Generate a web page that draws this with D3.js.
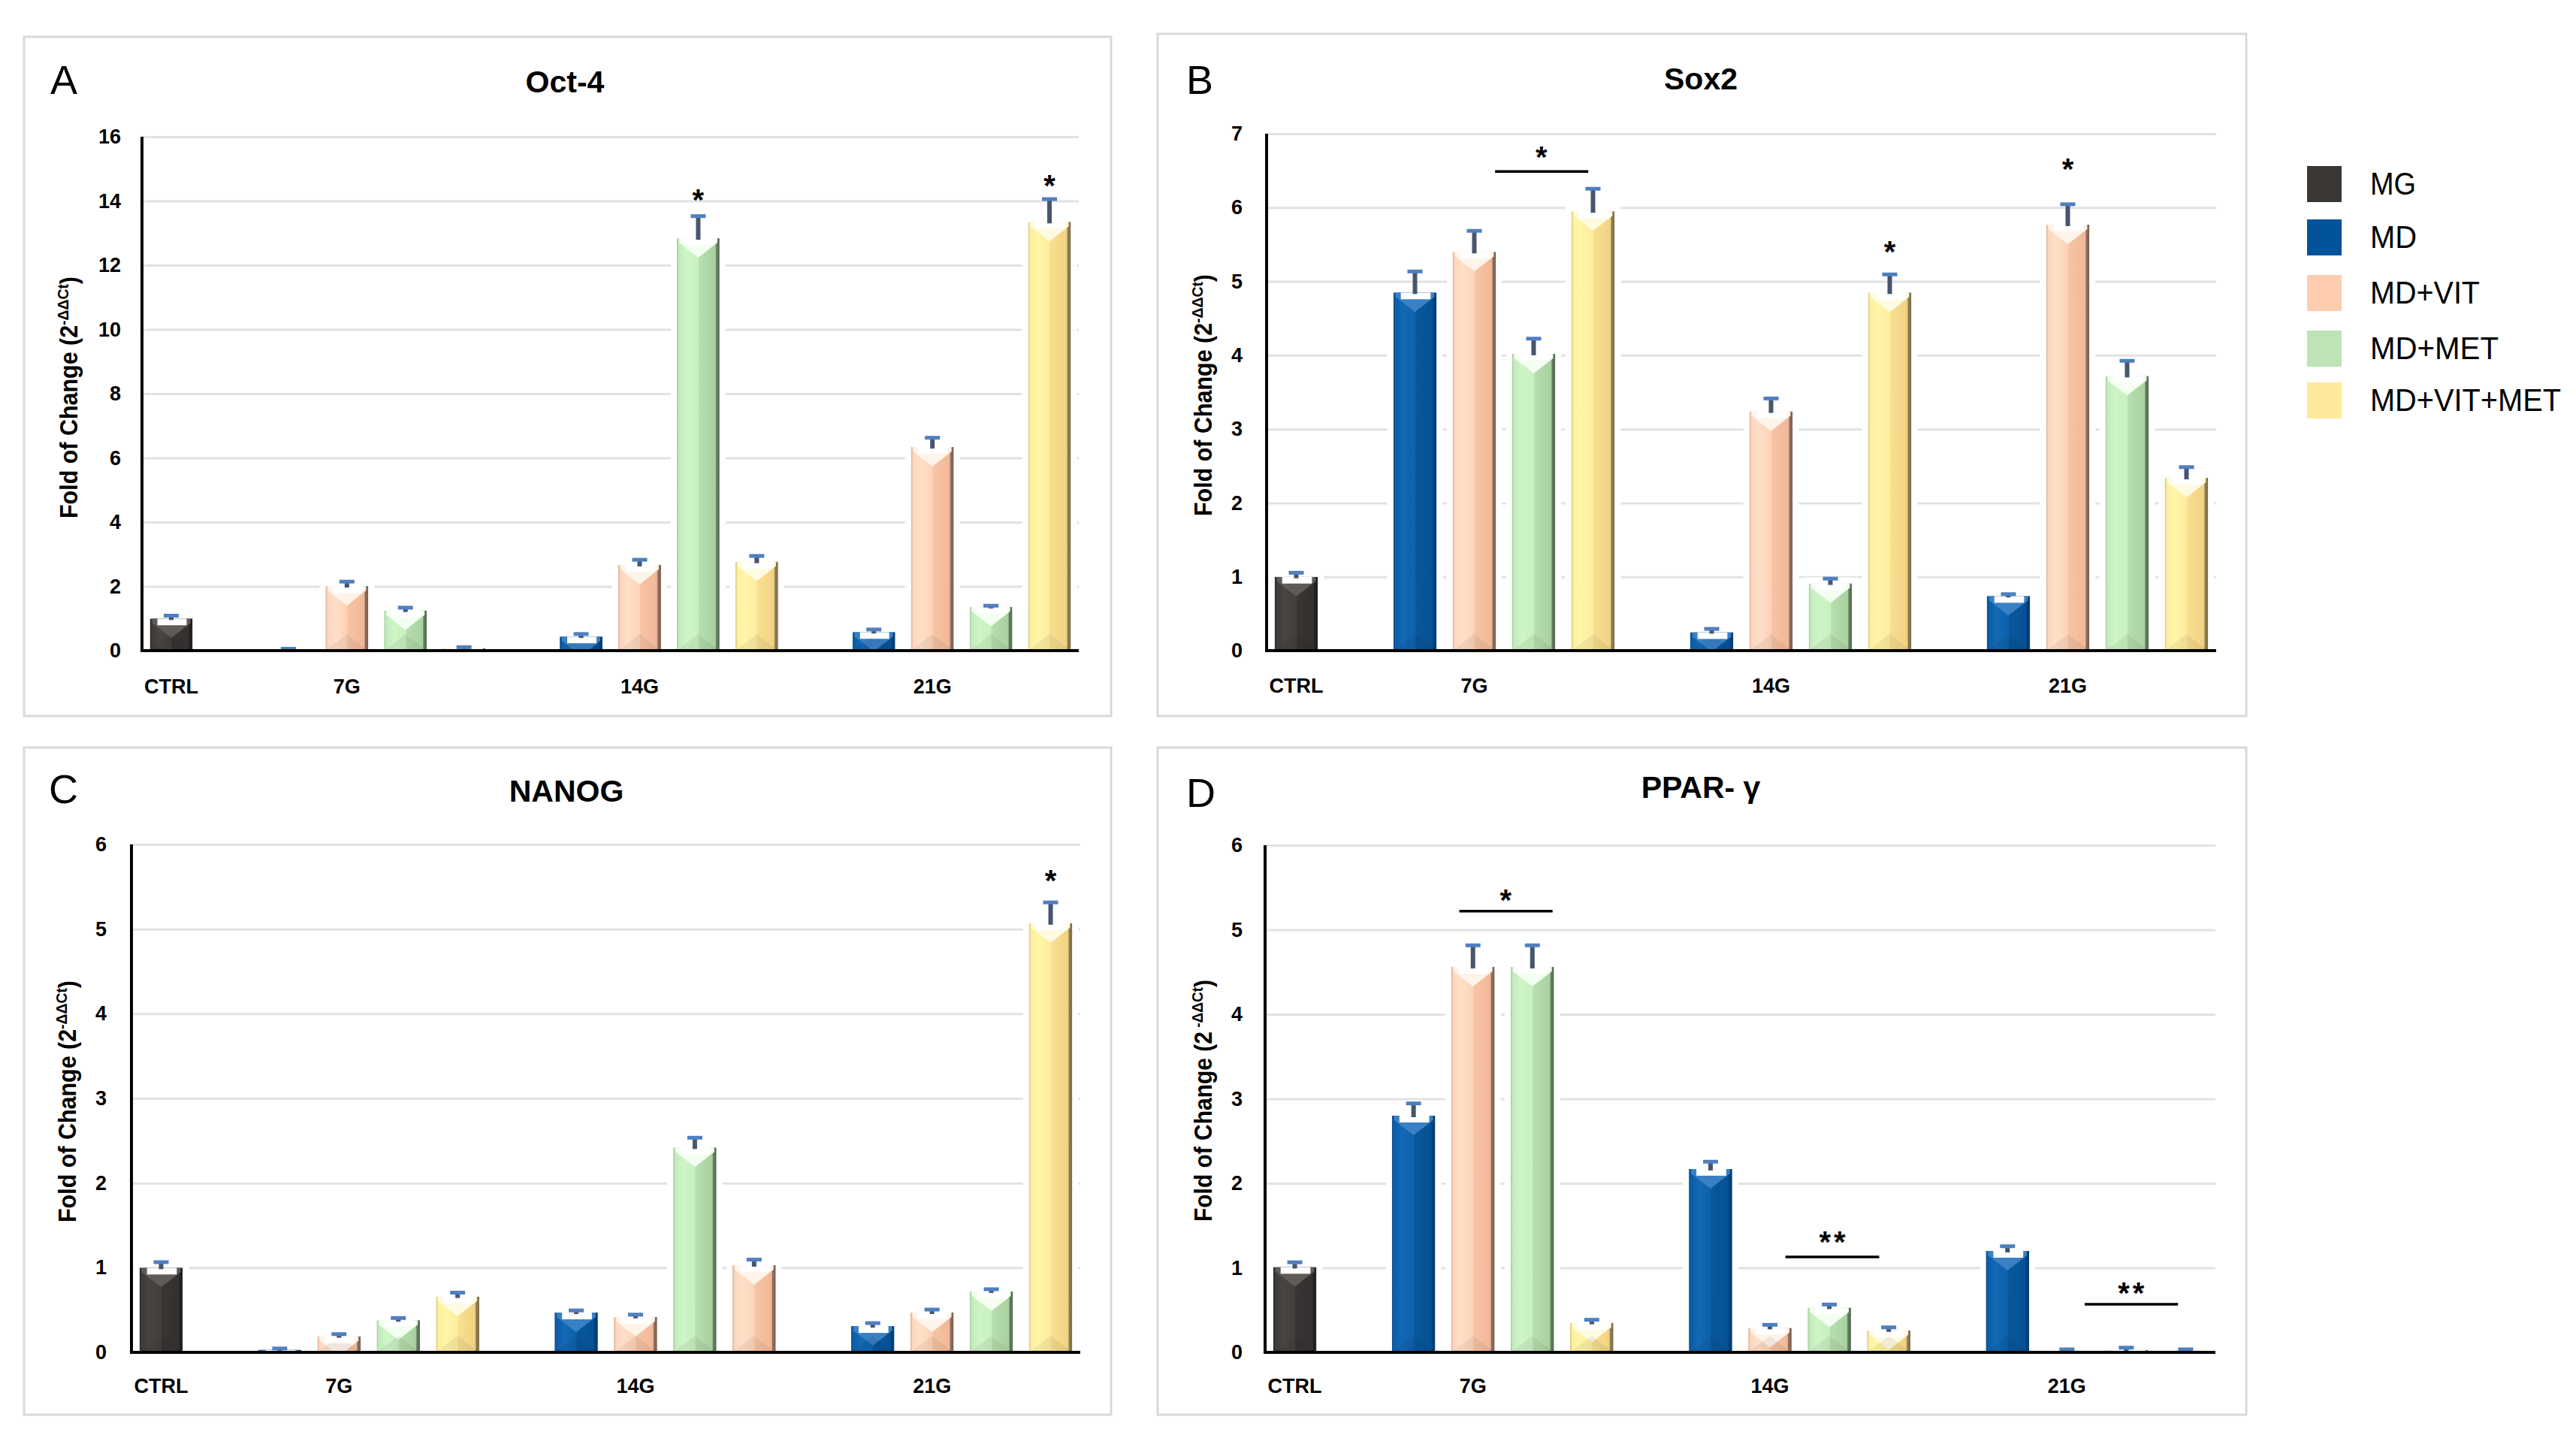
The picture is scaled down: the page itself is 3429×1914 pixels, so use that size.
<!DOCTYPE html>
<html><head><meta charset="utf-8">
<script src="https://cdn.jsdelivr.net/npm/d3@7"></script>
<style>html,body{margin:0;padding:0;background:#fff;} svg{display:block;}</style>
</head><body>
<svg id="chart" width="3429" height="1914"></svg>
<script>
// ---------------- DATA ----------------
const groups = ["CTRL", "7G", "14G", "21G"];
const series = ["MG", "MD", "MD+VIT", "MD+MET", "MD+VIT+MET"];
const seriesColors = ["#3b3735", "#02539a", "#fecdb0", "#bde3b6", "#fee89a"];
// bar order: CTRL:MG | 7G: MD, MD+VIT, MD+MET, MD+VIT+MET | 14G: same | 21G: same
const barGroup  = [0, 1, 1, 1, 1, 2, 2, 2, 2, 3, 3, 3, 3];
const barSeries = [0, 1, 2, 3, 4, 1, 2, 3, 4, 1, 2, 3, 4];
const nanogBarColor = [0, 1, 2, 3, 4, 1, 2, 3, 2, 1, 2, 3, 4]; // 14G 4th bar drawn in peach in the original

const oct4Values  = [1.00, 0.03, 2.01, 1.25, 0.08, 0.44, 2.67, 12.84, 2.77, 0.58, 6.34, 1.36, 13.35];
const oct4Errors  = [0.10, 0.04, 0.15, 0.10, 0.04, 0.09, 0.17, 0.70, 0.19, 0.09, 0.30, 0.05, 0.72];
const sox2Values  = [1.00, 4.85, 5.40, 4.02, 5.95, 0.25, 3.24, 0.91, 4.85, 0.74, 5.77, 3.72, 2.34];
const sox2Errors  = [0.06, 0.29, 0.29, 0.21, 0.31, 0.05, 0.18, 0.07, 0.25, 0.03, 0.28, 0.21, 0.15];
const nanogValues = [1.00, 0.03, 0.19, 0.38, 0.66, 0.47, 0.42, 2.42, 1.03, 0.31, 0.47, 0.72, 5.07];
const nanogErrors = [0.07, 0.02, 0.03, 0.03, 0.05, 0.03, 0.03, 0.12, 0.07, 0.04, 0.04, 0.03, 0.25];
const pparValues  = [1.01, 2.80, 4.56, 4.56, 0.35, 2.17, 0.29, 0.53, 0.26, 1.20, 0.02, 0.03, 0.02];
const pparErrors  = [0.06, 0.15, 0.26, 0.26, 0.04, 0.09, 0.04, 0.04, 0.04, 0.06, 0.02, 0.03, 0.02];

const oct4Ticks  = [0, 2, 4, 6, 8, 10, 12, 14, 16];
const sox2Ticks  = [0, 1, 2, 3, 4, 5, 6, 7];
const nanogTicks = [0, 1, 2, 3, 4, 5, 6];
const pparTicks  = [0, 1, 2, 3, 4, 5, 6];

// significance marks: slot position (bar slot units), value level, optional bracket line
const oct4Marks  = [{t: "*", s: 9, v: 14.25}, {t: "*", s: 15, v: 14.7}];
const sox2Marks  = [{t: "*", s: 4.13, v: 6.78, l: [3.35, 4.92, 6.49]}, {t: "*", s: 10, v: 5.49}, {t: "*", s: 13, v: 6.61}];
const nanogMarks = [{t: "*", s: 15, v: 5.65}];
const pparMarks  = [{t: "*", s: 3.55, v: 5.43, l: [2.77, 4.34, 5.22]},
                    {t: "**", s: 9.05, v: 1.39, l: [8.26, 9.84, 1.13]},
                    {t: "**", s: 14.08, v: 0.78, l: [13.3, 14.87, 0.57]}];

// ---------------- STYLE / LAYOUT ----------------
const FONT = "'Liberation Sans', Arial, Helvetica, sans-serif";
const gradStops = [
  [[0,"#2b2827"],[0.05,"#3e3a38"],[0.22,"#484442"],[0.5,"#433f3d"],[0.52,"#393534"],[0.9,"#34302f"],[0.93,"#232120"],[1,"#232120"]],
  [[0,"#0a4f8f"],[0.05,"#0b5ea8"],[0.22,"#1368b4"],[0.5,"#0e61ab"],[0.52,"#08579c"],[0.9,"#065195"],[0.93,"#043f75"],[1,"#043f75"]],
  [[0,"#d9ad93"],[0.05,"#fdd6bc"],[0.22,"#ffdfc8"],[0.5,"#fdd3b8"],[0.52,"#f8c4a5"],[0.9,"#f0b898"],[0.93,"#8e6d5d"],[1,"#7a5e51"]],
  [[0,"#a5c89e"],[0.05,"#c4ebbd"],[0.22,"#cdf5c6"],[0.5,"#c8f0c1"],[0.52,"#b7dfaf"],[0.9,"#a9d19f"],[0.93,"#607a5e"],[1,"#566e55"]],
  [[0,"#d6c07c"],[0.05,"#fdf0a0"],[0.22,"#fff6a8"],[0.5,"#fdec9f"],[0.52,"#f8df90"],[0.9,"#f1d283"],[0.93,"#8d7c51"],[1,"#7d6e48"]]
];
const highlight = ["#5f5b59", "#3a80c4", "#fff4ea", "#f3fff0", "#fffbe2"];

const panels = [
  {key:"A", title:"Oct-4", values:oct4Values, errors:oct4Errors, ticks:oct4Ticks, marks:oct4Marks, colors:barSeries,
   frame:[32,49,1479,953], plot:{left:189,right:1436,top:182,base:866}, tickPad:28,
   letter:[67,125], titleXY:[752,123], yLab:[103,529], xLabY:923, sup:"-ΔΔCt"},
  {key:"B", title:"Sox2", values:sox2Values, errors:sox2Errors, ticks:sox2Ticks, marks:sox2Marks, colors:barSeries,
   frame:[1541,45,2990,953], plot:{left:1686,right:2950,top:178,base:866}, tickPad:32,
   letter:[1579,125], titleXY:[2264,119], yLab:[1613,526], xLabY:922, sup:"-ΔΔCt"},
  {key:"C", title:"NANOG", values:nanogValues, errors:nanogErrors, ticks:nanogTicks, marks:nanogMarks, colors:nanogBarColor,
   frame:[32,995,1479,1883], plot:{left:175,right:1438,top:1124,base:1800}, tickPad:33,
   letter:[65,1069], titleXY:[754,1067], yLab:[101,1466], xLabY:1854, sup:"-ΔΔCt"},
  {key:"D", title:"PPAR- γ", values:pparValues, errors:pparErrors, ticks:pparTicks, marks:pparMarks, colors:barSeries,
   frame:[1541,995,2990,1883], plot:{left:1684,right:2949,top:1125,base:1800}, tickPad:30,
   letter:[1579,1074], titleXY:[2264,1062], yLab:[1613,1465], xLabY:1854, sup:" -ΔΔCt"}
];

// ---------------- DRAW ----------------
const svg = d3.select("#chart");
svg.append("rect").attr("width", 3429).attr("height", 1914).attr("fill", "#fff");
const defs = svg.append("defs");
gradStops.forEach((stops, i) => {
  const lg = defs.append("linearGradient").attr("id", "grad" + i).attr("x1", 0).attr("x2", 1).attr("y1", 0).attr("y2", 0);
  stops.forEach(s => lg.append("stop").attr("offset", s[0]).attr("stop-color", s[1]));
});

const groupLabelSlots = [0, 3, 8, 13];
const barSlot = (i) => barGroup[i] === 0 ? 0 : (barGroup[i] - 1) * 5 + 1 + barSeries[i];

function drawPanel(p) {
  const g = svg.append("g");
  const base = p.plot.base;
  g.append("rect").attr("x", p.frame[0]).attr("y", p.frame[1])
    .attr("width", p.frame[2] - p.frame[0]).attr("height", p.frame[3] - p.frame[1])
    .attr("fill", "none").attr("stroke", "#d9d9d9").attr("stroke-width", 3);

  const x = d3.scaleBand().domain(d3.range(16)).range([p.plot.left, p.plot.right])
    .paddingInner(0.27).paddingOuter(0.135);
  const step = x.step();
  const slotX = s => p.plot.left + (s + 0.5) * step;
  const y = d3.scaleLinear().domain([0, d3.max(p.ticks)]).range([base, p.plot.top]);

  // gridlines
  g.append("g").attr("transform", `translate(${p.plot.left},0)`)
    .call(d3.axisLeft(y).tickValues(p.ticks).tickSize(-(p.plot.right - p.plot.left)).tickFormat(""))
    .call(s => { s.select(".domain").remove(); s.selectAll("line").attr("stroke", "#e2e2e2").attr("stroke-width", 3); });

  // y tick labels
  g.append("g").attr("transform", `translate(${p.plot.left},0)`)
    .call(d3.axisLeft(y).tickValues(p.ticks).tickFormat(d3.format("d")).tickSize(0).tickPadding(p.tickPad))
    .call(s => {
      s.select(".domain").remove();
      s.selectAll("text").attr("font-family", FONT).attr("font-size", 27).attr("font-weight", "bold").attr("fill", "#000");
    });

  // x labels
  g.append("g").attr("transform", `translate(0,${base})`)
    .call(d3.axisBottom(x).tickValues(groupLabelSlots).tickFormat((d, i) => groups[i]).tickSize(0))
    .call(s => {
      s.select(".domain").remove();
      s.selectAll("text").attr("y", p.xLabY - base).attr("dy", 0)
        .attr("font-family", FONT).attr("font-size", 27).attr("font-weight", "bold").attr("fill", "#000");
    });

  const bars = p.values.map((v, i) => ({v, e: p.errors[i], slot: barSlot(i), c: p.colors[i], i}));

  // white halos
  g.append("g").selectAll("rect").data(bars).join("rect")
    .attr("x", d => x(d.slot) - 8).attr("width", x.bandwidth() + 16)
    .attr("y", d => y(d.v) - 8).attr("height", d => base - y(d.v) + 8).attr("fill", "#fff");

  // bars
  g.append("g").selectAll("g").data(bars).join("g").each(function (d) {
    const s = d3.select(this);
    const x0 = x(d.slot), w = x.bandwidth(), x1 = x0 + w, xc = x0 + w / 2;
    const top = y(d.v), h = base - top;
    const id = `clip-${p.key}-${d.i}`;
    defs.append("clipPath").attr("id", id).append("rect")
      .attr("x", x0).attr("y", top).attr("width", w).attr("height", h);
    const c = s.append("g").attr("clip-path", `url(#${id})`);
    c.append("rect").attr("x", x0).attr("y", top).attr("width", w).attr("height", h).attr("fill", `url(#grad${d.c})`);
    c.append("path").attr("d", `M${x0 + 3},${top}L${x1 - 3},${top}L${x1 - 3},${top + 6}L${xc},${top + 26}L${x0 + 3},${top + 6}Z`)
      .attr("fill", highlight[d.c]);
    c.append("path").attr("d", `M${x0},${base}L${xc},${base - 22}L${x1},${base}Z`).attr("fill", "rgba(0,0,0,0.06)");
    c.append("rect").attr("x", x0 + 10).attr("y", top).attr("width", w - 18).attr("height", 9).attr("fill", "#fff");

    // error bar
    const eTop = y(d.v + d.e);
    s.append("rect").attr("x", xc - 3).attr("y", eTop).attr("width", 6).attr("height", Math.max(0, top - eTop + 2))
      .attr("fill", "#46566d");
    s.append("rect").attr("x", xc - 10).attr("y", eTop - 2).attr("width", 20).attr("height", 5).attr("fill", "#4f7fc0");
  });

  // axes lines
  g.append("line").attr("x1", p.plot.left).attr("x2", p.plot.left).attr("y1", p.plot.top).attr("y2", base + 2)
    .attr("stroke", "#000").attr("stroke-width", 4);
  g.append("line").attr("x1", p.plot.left - 2).attr("x2", p.plot.right).attr("y1", base).attr("y2", base)
    .attr("stroke", "#000").attr("stroke-width", 4);

  // significance marks
  p.marks.forEach(m => {
    if (m.l) {
      g.append("line").attr("x1", slotX(m.l[0])).attr("x2", slotX(m.l[1])).attr("y1", y(m.l[2])).attr("y2", y(m.l[2]))
        .attr("stroke", "#000").attr("stroke-width", 3.5);
    }
    g.append("text").attr("x", slotX(m.s) + (m.t.length > 1 ? 2 : 0)).attr("y", y(m.v) + 23)
      .attr("text-anchor", "middle").attr("font-family", FONT).attr("font-size", 40).attr("font-weight", "bold")
      .attr("letter-spacing", m.t.length > 1 ? 4 : 0).text(m.t);
  });

  // title, letter
  g.append("text").attr("x", p.titleXY[0]).attr("y", p.titleXY[1]).attr("text-anchor", "middle")
    .attr("font-family", FONT).attr("font-size", 41).attr("font-weight", "bold").text(p.title);
  g.append("text").attr("x", p.letter[0]).attr("y", p.letter[1])
    .attr("font-family", FONT).attr("font-size", 54).text(p.key);

  // y label
  const yl = g.append("text").attr("transform", `translate(${p.yLab[0]},${p.yLab[1]}) rotate(-90)`)
    .attr("text-anchor", "middle").attr("font-family", FONT).attr("font-size", 33).attr("font-weight", "bold")
    .attr("textLength", 322).attr("lengthAdjust", "spacingAndGlyphs");
  yl.append("tspan").text("Fold of Change (2");
  yl.append("tspan").attr("font-size", 21).attr("dy", -12).text(p.sup);
  yl.append("tspan").attr("dy", 12).text(")");
}

panels.forEach(drawPanel);

// legend
const legendTop = [221, 292, 366, 440, 509];
const legendTextLen = [61, 62, 146, 171, 254];
const lg = svg.append("g");
series.forEach((s, i) => {
  lg.append("rect").attr("x", 3071).attr("y", legendTop[i]).attr("width", 46).attr("height", 48).attr("fill", seriesColors[i]);
  lg.append("text").attr("x", 3155).attr("y", legendTop[i] + 24 + 14)
    .attr("font-family", FONT).attr("font-size", 42)
    .attr("textLength", legendTextLen[i]).attr("lengthAdjust", "spacingAndGlyphs").text(s);
});
</script>
</body></html>
